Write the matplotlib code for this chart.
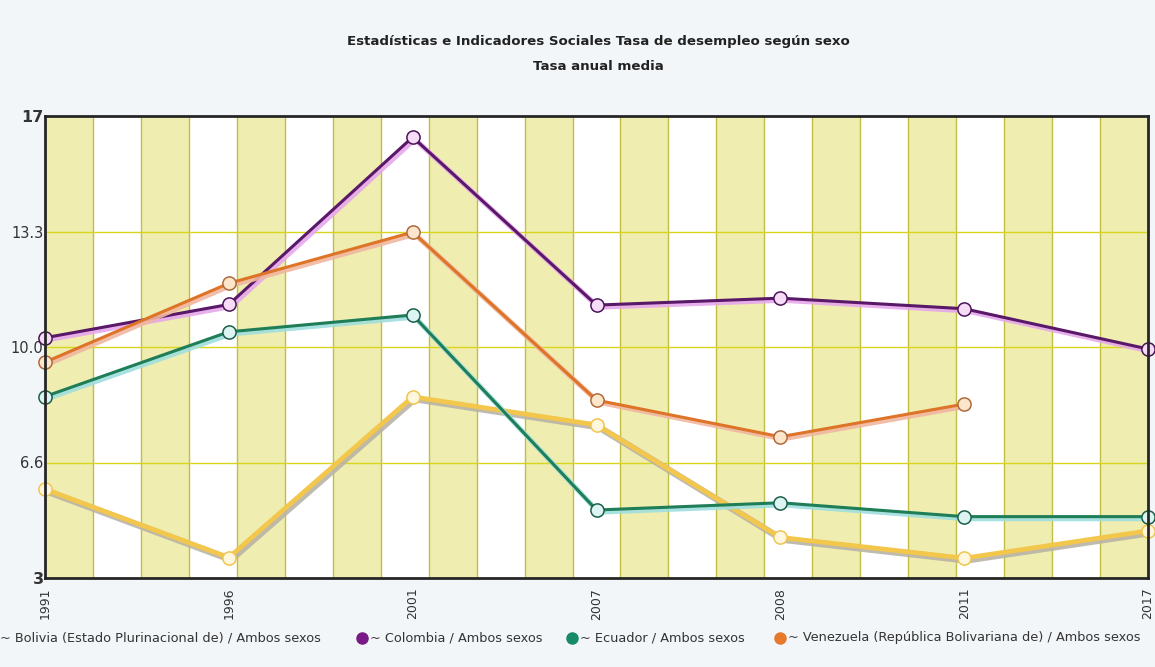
import numpy as np
import matplotlib
matplotlib.use("Agg")
import matplotlib.pyplot as plt
import matplotlib.patheffects as pe
from matplotlib.lines import Line2D

# data
years = ["1991", "1996", "2001", "2007", "2008", "2011", "2017"]
bolivia = [5.69, 3.62, 8.49, 7.64, 4.23, 3.60, 4.43]
colombia = [10.28, 11.29, 16.36, 11.27, 11.48, 11.16, 9.94]
ecuador = [8.50, 10.46, 10.97, 5.06, 5.28, 4.86, 4.86]
venezuela = [9.54, 11.93, 13.48, 8.39, 7.28, 8.27, np.nan]
ytick_vals = [3, 6.5, 10, 13.5, 17]
ytick_labels = ["3", "6.6", "10.0", "13.3", "17"]
names = ["~ Bolivia (Estado Plurinacional de) / Ambos sexos",
         "~ Colombia / Ambos sexos",
         "~ Ecuador / Ambos sexos",
         "~ Venezuela (República Bolivariana de) / Ambos sexos"]

plt.rcParams['font.family'] = ['DejaVu Sans']

W, H = 1155, 667
fig = plt.figure(figsize=(W / 100, H / 100), dpi=100)
fig.patch.set_facecolor('#f3f6f9')
ax = fig.add_axes([45 / W, 1 - 578 / H, (1148 - 45) / W, (578 - 116) / H])
ax.set_facecolor('white')

x = np.arange(len(years))
ax.set_xlim(0, len(years) - 1)
ax.set_ylim(3, 17)

# alternating vertical bands
edges = np.linspace(0, len(years) - 1, 24)
for i in range(23):
    if i % 2 == 0:
        ax.axvspan(edges[i], edges[i + 1], color='#efedb0', lw=0, zorder=0)
for e in edges[1:-1]:
    ax.axvline(e, color='#c2be44', lw=1, zorder=1)
for v in ytick_vals[1:-1]:
    ax.axhline(v, color='#d9d51c', lw=1, zorder=1)

series = [
    (bolivia, '#f3c64c', '#fff6de', '#f0c650', '#b9b4a6', 3.4),
    (colombia, '#5a1868', '#f6dcf6', '#4a1458', '#e6a8ec', 2.2),
    (ecuador, '#1f7d57', '#dcf4f2', '#1c5e4a', '#9fdede', 2.2),
    (venezuela, '#dd7428', '#fde6cc', '#b06a3a', '#f1b7a0', 2.2),
]
for vals, col, face, edge, shadow, lw in series:
    ax.plot(x, vals, color=col, lw=lw, zorder=3, solid_capstyle='round',
            path_effects=[pe.SimpleLineShadow(offset=(1.5, -1.5), shadow_color=shadow, alpha=0.9, linewidth=lw + 1.5),
                          pe.Normal()])
    ax.plot(x, vals, 'o', ms=9.5, mfc=face, mec=edge, mew=1.1, zorder=4, clip_on=False)

for s in ax.spines.values():
    s.set_color('#262626')
    s.set_linewidth(2)
    s.set_zorder(5)

ax.set_xticks(x)
ax.set_xticklabels(years, rotation=90, fontsize=9, color='#333333')
ax.set_yticks(ytick_vals)
ax.set_yticklabels(ytick_labels, fontsize=10.5, color='#333333')
for lab in ax.get_yticklabels():
    if lab.get_text() in ("3", "17"):
        lab.set_fontweight('bold')
        lab.set_fontsize(11.5)
ax.tick_params(length=0)
ax.tick_params(axis='x', pad=7)
ax.tick_params(axis='y', pad=1)

fig.text(598 / W, 1 - 42 / H, "Estadísticas e Indicadores Sociales Tasa de desempleo según sexo",
         ha='center', va='center', fontsize=9.6, fontweight='bold', color='#222222')
fig.text(598 / W, 1 - 67 / H, "Tasa anual media",
         ha='center', va='center', fontsize=9.6, fontweight='bold', color='#222222')

# legend along the bottom
leg_y = 1 - 638 / H
leg_marker_x = [-8, 362, 572, 780]
leg_colors = ['#f3c64c', '#7a1a86', '#178a68', '#e8782a']
for mx, c, name in zip(leg_marker_x, leg_colors, names):
    fig.add_artist(Line2D([mx / W], [leg_y], marker='o', ms=8, color=c, mec=c,
                          transform=fig.transFigure))
    fig.text((mx + 8) / W, leg_y, name, ha='left', va='center', fontsize=9.3, color='#333333')

fig.savefig("out.png", dpi=100, facecolor=fig.get_facecolor())
